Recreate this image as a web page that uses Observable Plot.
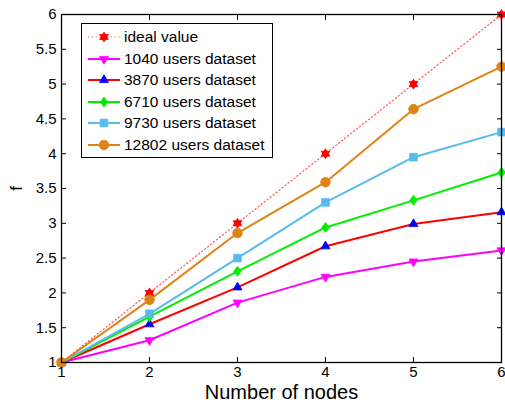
<!DOCTYPE html>
<html><head><meta charset="utf-8">
<script src="https://cdn.jsdelivr.net/npm/d3@7"></script>
<script src="https://cdn.jsdelivr.net/npm/@observablehq/plot@0.6"></script>
<style>
body{margin:0;background:#fff;font-family:"Liberation Sans",Arial,sans-serif;}
#wrap{position:relative;width:505px;height:405px;}
#legend{position:absolute;left:81px;top:23px;width:190px;height:133px;border:1.3px solid #000;background:#fff;box-sizing:content-box;}
.row{position:absolute;left:5px;height:20px;display:flex;align-items:center;font-size:15.5px;color:#000;white-space:nowrap;}
.row svg{margin-right:3px;}
</style></head>
<body><div id="wrap"><div id="chart"></div><div id="legend"></div></div>
<script>
const nodes = [1, 2, 3, 4, 5, 6];
const ideal = [1, 2, 3, 4, 5, 6];
const u1040 = [1, 1.32, 1.86, 2.23, 2.45, 2.61];
const u3870 = [1, 1.55, 2.08, 2.67, 2.99, 3.16];
const u6710 = [1, 1.66, 2.31, 2.94, 3.33, 3.73];
const u9730 = [1, 1.70, 2.50, 3.30, 3.95, 4.31];
const u12802 = [1, 1.90, 2.86, 3.59, 4.64, 5.25];
const seriesNames = ["ideal value", "1040 users dataset", "3870 users dataset", "6710 users dataset", "9730 users dataset", "12802 users dataset"];
const xTicks = [1, 2, 3, 4, 5, 6];
const yTicks = [1, 1.5, 2, 2.5, 3, 3.5, 4, 4.5, 5, 5.5, 6];

const hexagram = {draw(ctx, size) {
  const r = Math.sqrt(size / Math.PI) * 1.25;
  ctx.moveTo(0, -r); ctx.lineTo(r * 0.866, r / 2); ctx.lineTo(-r * 0.866, r / 2); ctx.closePath();
  ctx.moveTo(0, r); ctx.lineTo(-r * 0.866, -r / 2); ctx.lineTo(r * 0.866, -r / 2); ctx.closePath();
}};
const triDown = {draw(ctx, size) {
  const r = Math.sqrt(size / Math.PI) * 1.3;
  ctx.moveTo(0, r); ctx.lineTo(r * 0.866, -r / 2); ctx.lineTo(-r * 0.866, -r / 2); ctx.closePath();
}};
const triUp = {draw(ctx, size) {
  const r = Math.sqrt(size / Math.PI) * 1.3;
  ctx.moveTo(0, -r); ctx.lineTo(r * 0.866, r / 2); ctx.lineTo(-r * 0.866, r / 2); ctx.closePath();
}};
const diamondS = {draw(ctx, size) {
  const r = Math.sqrt(size / Math.PI) * 1.25;
  ctx.moveTo(0, -r); ctx.lineTo(r * 0.75, 0); ctx.lineTo(0, r); ctx.lineTo(-r * 0.75, 0); ctx.closePath();
}};
const squareS = {draw(ctx, size) {
  const r = Math.sqrt(size / Math.PI) * 0.85;
  ctx.rect(-r, -r, 2 * r, 2 * r);
}};
const circleS = {draw(ctx, size) {
  const r = Math.sqrt(size / Math.PI);
  ctx.moveTo(r, 0); ctx.arc(0, 0, r, 0, 2 * Math.PI);
}};

const styles = [
  {line: "#ff5555", marker: "#ff0000", symbol: hexagram, dash: "1.2,2.6", width: 1.2, r: 4},
  {line: "#ff00ff", marker: "#ff00ff", symbol: triDown, width: 2, r: 4},
  {line: "#ff0000", marker: "#0000ff", symbol: triUp, width: 2, r: 4},
  {line: "#00ee00", marker: "#00ee00", symbol: diamondS, width: 2, r: 4},
  {line: "#56bbef", marker: "#56bbef", symbol: squareS, width: 2, r: 4.5},
  {line: "#de8416", marker: "#de8416", symbol: circleS, width: 2, r: 4.8}
];
const values = [ideal, u1040, u3870, u6710, u9730, u12802];
const data = values.map((v, i) => nodes.map((n, j) => ({x: n, y: v[j], s: i})));

const marks = [];
data.forEach((d, i) => {
  const st = styles[i];
  marks.push(Plot.line(d, {x: "x", y: "y", stroke: st.line, strokeWidth: st.width, strokeDasharray: st.dash}));
});
data.forEach((d, i) => {
  const st = styles[i];
  marks.push(Plot.dot(d, {x: "x", y: "y", symbol: () => st.symbol, r: st.r, fill: st.marker, stroke: st.marker, strokeWidth: 0.8}));
});

const chart = Plot.plot({
  width: 505, height: 405,
  marginLeft: 61, marginRight: 4, marginTop: 14, marginBottom: 43,
  style: {fontFamily: "Liberation Sans, Arial, sans-serif", fontSize: "15px", background: "#fff"},
  symbol: {type: "identity"},
  x: {domain: [1, 6]},
  y: {domain: [1, 6]},
  marks: [
    ...marks,
    Plot.frame({stroke: "#000", strokeWidth: 1.3}),
    Plot.axisX(xTicks, {anchor: "bottom", tickSize: -5, tickPadding: 9, tickFormat: d => String(d), label: "Number of nodes", labelAnchor: "center", labelArrow: "none", labelOffset: 36, fontSize: 15}),
    Plot.axisX(xTicks, {anchor: "top", tickSize: -5, tickFormat: () => "", label: null}),
    Plot.axisY(yTicks, {anchor: "left", tickSize: -5, tickPadding: 10, tickFormat: d => String(d), label: "f", labelAnchor: "center", labelArrow: "none", labelOffset: 52, fontSize: 15}),
    Plot.axisY(yTicks, {anchor: "right", tickSize: -5, tickFormat: () => "", label: null})
  ]
});
document.getElementById("chart").appendChild(chart);
d3.select(chart).selectAll("[aria-label='x-axis label'] text").style("font-size", "20px");
d3.select(chart).selectAll("[aria-label='y-axis label'] text").style("font-size", "17px");

const legend = document.getElementById("legend");
seriesNames.forEach((name, i) => {
  const st = styles[i];
  const row = document.createElement("div");
  row.className = "row";
  row.style.top = (3 + i * 21.5) + "px";
  const svg = d3.create("svg").attr("width", 34).attr("height", 14);
  svg.append("line").attr("x1", 1).attr("x2", 33).attr("y1", 7).attr("y2", 7)
    .attr("stroke", st.line).attr("stroke-width", st.width).attr("stroke-dasharray", st.dash || null);
  const p = d3.path();
  st.symbol.draw(p, Math.PI * st.r * st.r);
  svg.append("path").attr("d", p.toString()).attr("transform", "translate(17,7)")
    .attr("fill", st.marker).attr("stroke", st.marker).attr("stroke-width", 0.8);
  row.appendChild(svg.node());
  const span = document.createElement("span");
  span.textContent = name;
  row.appendChild(span);
  legend.appendChild(row);
});
</script></body></html>
